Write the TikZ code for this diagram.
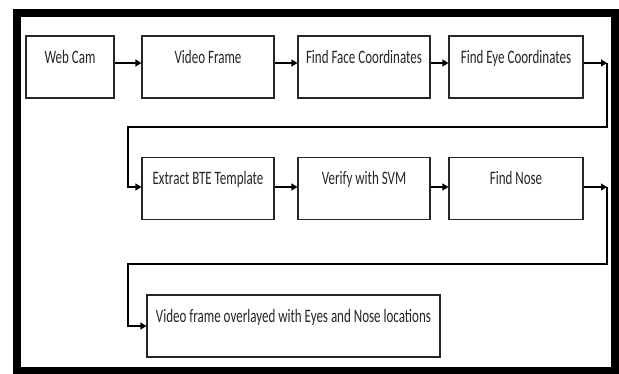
\documentclass[tikz,border=0pt]{standalone}
\usepackage{graphicx}
\usepackage{fontspec}
\setmainfont{Carlito}
\usetikzlibrary{arrows.meta}
\newcommand\sqz[1]{\scalebox{0.685}[1]{#1}}
\begin{document}
\begin{tikzpicture}[x=1pt,y=-1pt,
  box/.style={draw=black!85,line width=1.1pt,rectangle,inner xsep=0pt,inner ysep=0pt,
    font=\fontsize{19}{21}\selectfont,text=black!85,text height=27.5pt,text depth=#1},
  box/.default=34.5pt,
  conn/.style={line width=1.1pt,draw=black},
  arr/.style={conn,-{Triangle[length=6pt,width=7pt]}}]
\useasboundingbox (0,0) rectangle (619,374);
\fill[white] (0,0) rectangle (619,374);
\draw[line width=8pt] (17,13) rectangle (615,370.5);
% row 1
\node[box,minimum width=88pt,minimum height=62pt] (webcam) at (70,67) {\sqz{Web Cam}};
\node[box,minimum width=132pt,minimum height=62pt] (video) at (208,67) {\sqz{Video Frame}};
\node[box,minimum width=132pt,minimum height=62pt] (face) at (364,67) {\sqz{Find Face Coordinates}};
\node[box,minimum width=134pt,minimum height=62pt] (eye) at (516,67) {\sqz{Find Eye Coordinates}};
% row 2
\node[box=34.5pt,minimum width=132pt,minimum height=61pt] (bte) at (208,188.5) {\sqz{Extract BTE Template}};
\node[box=34.5pt,minimum width=132pt,minimum height=61pt] (svm) at (364,188.5) {\sqz{Verify with SVM}};
\node[box=34.5pt,minimum width=134pt,minimum height=61pt] (nose) at (516,188.5) {\sqz{Find Nose}};
% row 3
\node[box,minimum width=293pt,minimum height=62pt] (final) at (293.5,326) {\sqz{Video frame overlayed with Eyes and Nose locations}};
% connectors row 1
\draw[arr] ([yshift=4pt]webcam.east) -- ([yshift=4pt]video.west);
\draw[arr] ([yshift=4pt]video.east) -- ([yshift=4pt]face.west);
\draw[arr] ([yshift=4pt]face.east) -- ([yshift=4pt]eye.west);
\coordinate (c1) at (607,63);
\draw[arr] ([yshift=4pt]eye.east) -- (c1);
\draw[arr] (c1) -- (607,127) -- (128,127) |- ([yshift=1.5pt]bte.west);
% connectors row 2
\draw[arr] ([yshift=1.5pt]bte.east) -- ([yshift=1.5pt]svm.west);
\draw[arr] ([yshift=1.5pt]svm.east) -- ([yshift=1.5pt]nose.west);
\coordinate (c2) at (607,187);
\draw[arr] ([yshift=1.5pt]nose.east) -- (c2);
\draw[arr] (c2) -- (607,264) -- (128,264) |- (final.west);
\end{tikzpicture}
\end{document}
